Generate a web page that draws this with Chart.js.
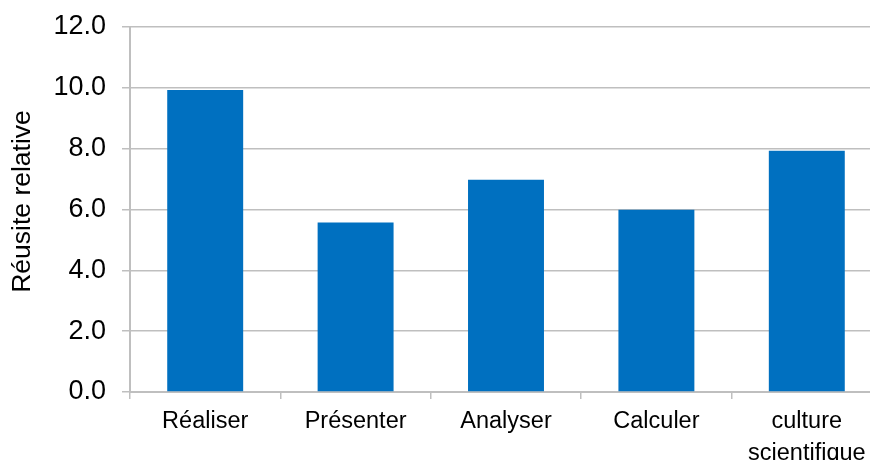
<!DOCTYPE html>
<html>
<head>
<meta charset="utf-8">
<script src="https://cdn.jsdelivr.net/npm/chart.js@4"></script>
<style>
  html, body { margin: 0; padding: 0; background: #fff; overflow: hidden; }
  #wrap { position: absolute; left: 0; top: 0; width: 900px; height: 460px; }
</style>
</head>
<body>
<div id="wrap"><canvas id="c" width="900" height="460"></canvas></div>
<script>
// Compétences évaluées et réussite relative
const categories = ['Réaliser', 'Présenter', 'Analyser', 'Calculer', ['culture', 'scientifique']];
const reussite = [9.93, 5.57, 6.98, 5.99, 7.93];
const yTicks = [0, 2, 4, 6, 8, 10, 12];
const yTitle = 'Réusite relative';

const gridColor = '#BFBFBF';
const fontFamily = 'Liberation Sans, Arial, sans-serif';

// Axis title on the left, rotated, slightly above the plot's vertical centre
const yTitlePlugin = {
  id: 'yTitle',
  afterDraw(chart) {
    const { ctx, chartArea } = chart;
    ctx.save();
    ctx.translate(23, (chartArea.top + chartArea.bottom) / 2 - 8);
    ctx.rotate(-Math.PI / 2);
    ctx.font = '26.5px ' + fontFamily;
    ctx.fillStyle = '#000';
    ctx.textAlign = 'center';
    ctx.textBaseline = 'middle';
    ctx.fillText(yTitle, 0, 0);
    ctx.restore();
  }
};

new Chart(document.getElementById('c'), {
  type: 'bar',
  data: {
    labels: categories,
    datasets: [{
      data: reussite,
      backgroundColor: '#0070C0',
      borderWidth: 0,
      barPercentage: 0.505,
      categoryPercentage: 1
    }]
  },
  plugins: [yTitlePlugin],
  options: {
    responsive: false,
    animation: false,
    events: [],
    layout: { padding: { top: 27, right: 18, bottom: 0, left: 0 } },
    plugins: { legend: { display: false }, tooltip: { enabled: false } },
    scales: {
      x: {
        afterFit: (s) => { s.height = 68; },
        grid: {
          offset: true,
          drawOnChartArea: false,
          drawTicks: true,
          tickLength: 7,
          color: gridColor,
          lineWidth: 1.5
        },
        border: { display: true, color: gridColor, width: 2 },
        ticks: {
          color: '#000',
          padding: 7,
          maxRotation: 0,
          autoSkip: false,
          font: { family: fontFamily, size: 23.5, lineHeight: 1.35 }
        }
      },
      y: {
        min: 0,
        max: 12,
        afterFit: (s) => { s.width = 130; s.paddingTop = 0; s.paddingBottom = 0; },
        afterBuildTicks: (s) => { s.ticks = yTicks.map(v => ({ value: v })); },
        grid: {
          color: gridColor,
          lineWidth: 1.5,
          drawTicks: true,
          tickLength: 8
        },
        border: { display: true, color: gridColor, width: 2 },
        ticks: {
          color: '#000',
          padding: 16,
          callback: (v) => Number(v).toFixed(1),
          font: { family: fontFamily, size: 27 }
        }
      }
    }
  }
});
</script>
</body>
</html>
